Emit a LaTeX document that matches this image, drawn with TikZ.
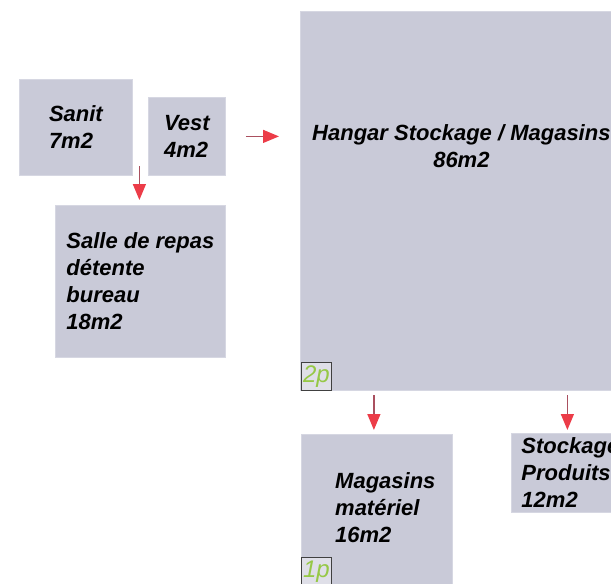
\documentclass[tikz,border=0pt]{standalone}
\usepackage{fontspec}
\setmainfont{Liberation Sans}
\usetikzlibrary{arrows.meta,calc,positioning}

\definecolor{roomfill}{RGB}{201,202,216}
\definecolor{roomedge}{RGB}{214,215,226}
\definecolor{flowred}{RGB}{236,60,72}
\definecolor{flowshaft}{RGB}{170,80,95}
\definecolor{taggreen}{RGB}{150,200,70}

\tikzset{
	room/.style={fill=roomfill,draw=roomedge,line width=0.8pt,inner sep=0pt,anchor=north west,
		font=\fontsize{22}{27}\selectfont\bfseries\itshape,align=left},
	roomtext/.style={inner sep=0pt,font=\fontsize{22}{27}\selectfont\bfseries\itshape},
	levtag/.style={draw=black!75,fill=roomfill!60!white,line width=0.8pt,anchor=north west,
		minimum width=30pt,minimum height=28pt,inner sep=0pt,
		font=\fontsize{24}{24}\selectfont\itshape,text=taggreen},
	flow/.style={draw=flowshaft,line width=1.4pt,-{Triangle[length=16pt,width=13pt,color=flowred]}}
}

\begin{document}
\begin{tikzpicture}[x=1pt,y=-1pt]
	\useasboundingbox (0,0) rectangle (611,584);
	\clip (0,0) rectangle (611,584);
	
	% pieces
	\node[room,minimum width=113pt,minimum height=96pt] (sanit) at (19,79) {Sanit\\7m2};
	\node[room,minimum width=77pt,minimum height=78pt] (vest) at (148,97) {Vest\\4m2};
	\node[room,minimum width=170pt,minimum height=152pt] (salle) at (55,205) {Salle de repas\\d\'etente\\bureau\\18m2};
	\node[room,minimum width=322pt,minimum height=379pt] (hangar) at (300,11) {};
	\node[roomtext,align=center] (hangartxt) at ($(hangar.north)+(0,135)$) {Hangar Stockage / Magasins\\86m2};
	\node[room,minimum width=151pt,minimum height=160pt] (magasins) at (301,434) {};
	\node[roomtext,align=left,anchor=north west] (magasinstxt) at ($(magasins.north west)+(34,38)$) {Magasins\\mat\'eriel\\16m2};
	\node[room,minimum width=118pt,minimum height=79pt] (stockage) at (511,433) {Stockage\\Produits\\12m2};
	
	% niveaux
	\node[levtag] (tag2) at (301,362) {2p};
	\node[levtag] (tag1) at (301,557) {1p};
	
	% fleches
	\draw[flow] ($(salle.north)+(-1,-39)$) -- ($(salle.north)+(-1,-5)$);
	\draw[flow] ($(vest.east)+(20,0)$) -- ($(hangar.west |- vest.east)+(-21,0)$);
	\draw[flow] ($(magasins.north)+(-3,-39)$) -- ($(magasins.north)+(-3,-4)$);
	\draw[flow] ($(stockage.north)+(-3,-38)$) -- ($(stockage.north)+(-3,-3)$);
\end{tikzpicture}
\end{document}
